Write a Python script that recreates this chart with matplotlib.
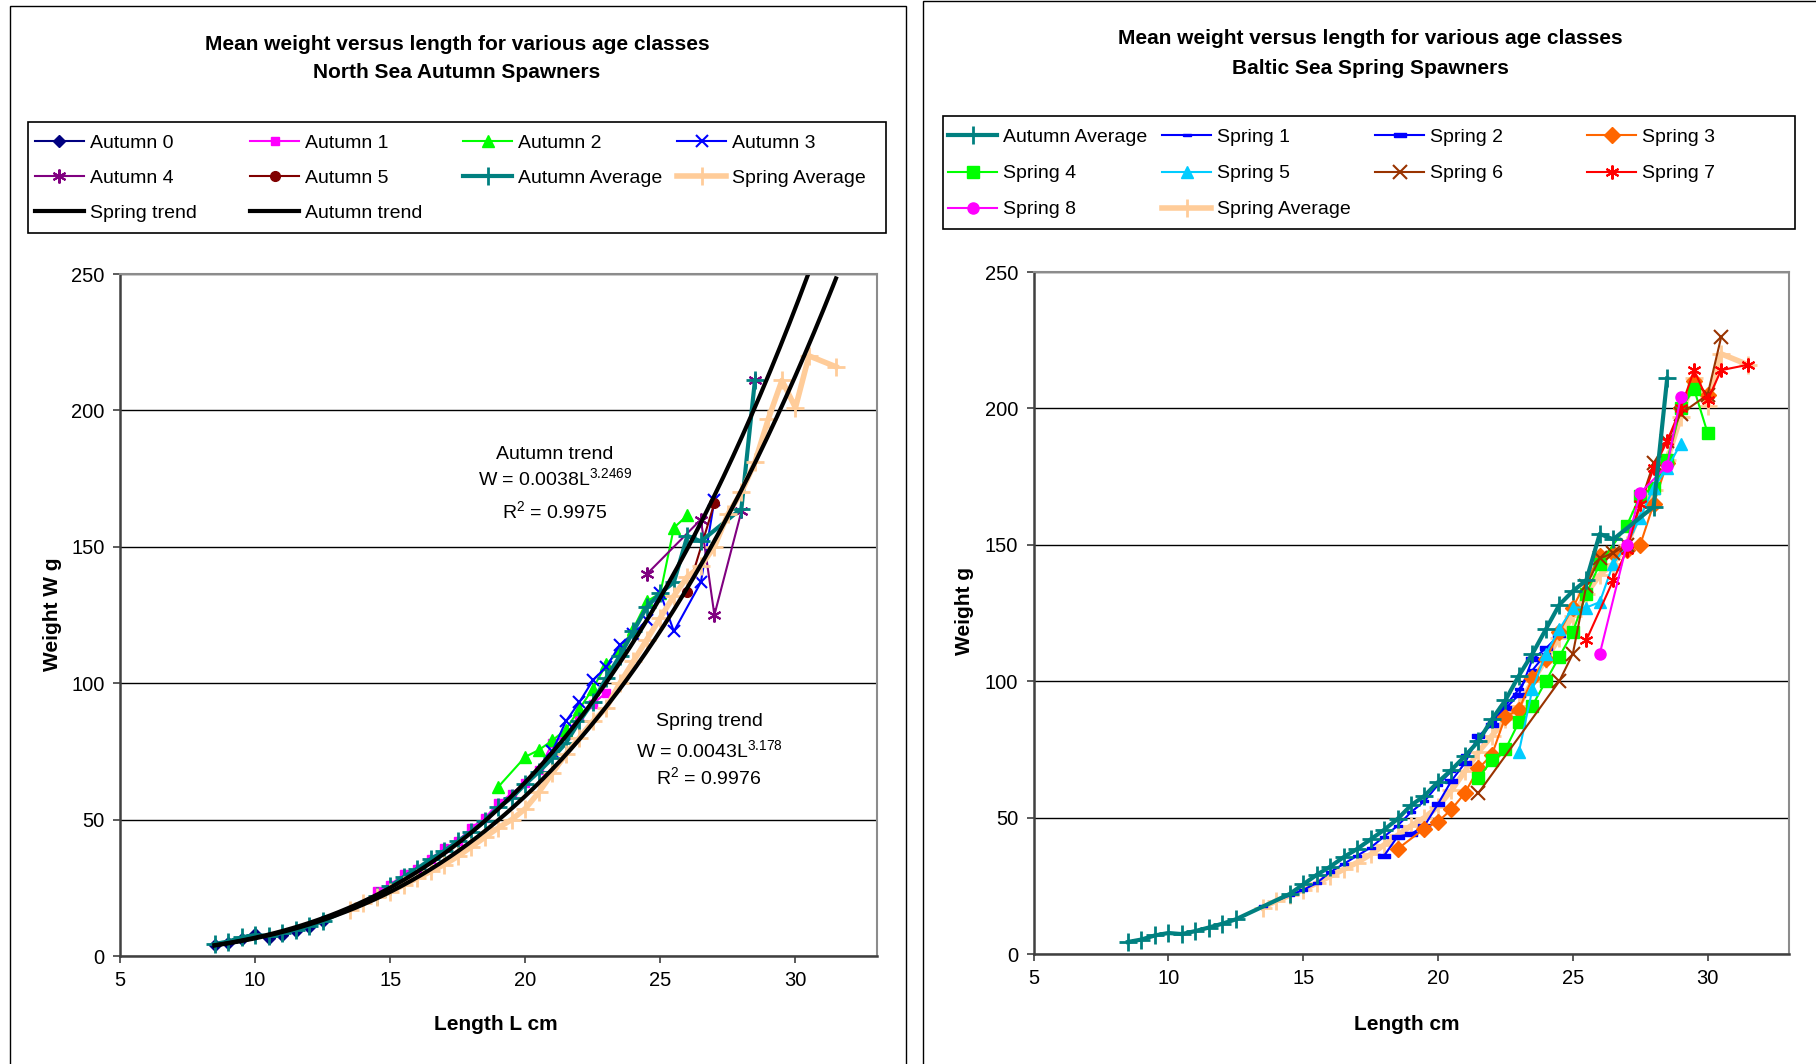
import numpy as np
import matplotlib
matplotlib.use('Agg')
import matplotlib.pyplot as plt
from matplotlib.patches import Rectangle
from matplotlib.lines import Line2D

plt.rcParams['font.family'] = ['Liberation Sans', 'DejaVu Sans']
plt.rcParams['mathtext.fontset'] = 'custom'
plt.rcParams['mathtext.rm'] = 'Liberation Sans'
plt.rcParams['mathtext.default'] = 'regular'

# ---- data (length cm, mean weight g) ----
aut_avg_x = [8.5, 9, 9.5, 10, 10.5, 11, 11.5, 12, 12.5, 14.5, 15, 15.5, 16, 16.5, 17, 17.5, 18, 18.5,
             19, 19.5, 20, 20.5, 21, 21.5, 22, 22.5, 23, 23.5, 24, 24.5, 25, 25.5, 26, 26.5, 28, 28.5]
aut_avg_y = [4.4, 5.3, 6.8, 7.7, 7.3, 8.4, 9.7, 11.1, 12.7, 22, 25.5, 29, 32, 35.5, 38.5, 42, 45.5, 49.5,
             54.5, 58, 63, 67.5, 72.5, 78, 86, 93, 102, 110, 119, 128, 133, 137, 154, 152, 164, 211]

spr_avg_x = [13.5, 14, 14.5, 15, 15.5, 16, 16.5, 17, 17.5, 18, 18.5, 19, 19.5, 20, 20.5, 21, 21.5, 22,
             22.5, 23, 23.5, 24, 24.5, 25, 25.5, 26, 26.5, 27, 27.5, 28, 28.5, 29, 29.5, 30, 30.5, 31.5]
spr_avg_y = [17, 19.5, 21.5, 23.5, 26, 28.5, 31, 33.5, 36.5, 40, 43.5, 47, 50, 54, 60, 67, 74, 80,
             86, 91, 100, 108, 116, 124, 132, 139, 143, 150, 162, 170, 181, 197, 211, 201, 220, 216]

aut0_x = [8.5, 9, 9.5, 10, 10.5, 11, 11.5, 12, 12.5]
aut0_y = [4.0, 4.6, 6.3, 8.0, 6.5, 7.6, 9.3, 10.7, 13.0]
aut1_x = [14.5, 15, 15.5, 16, 16.5, 17, 17.5, 18, 18.5, 19, 19.5, 20, 20.5, 21, 21.5, 22, 22.5, 23]
aut1_y = [24, 26, 30, 32, 35.5, 39.5, 42, 47, 50.5, 56, 59.5, 63.5, 68, 78, 81, 88, 92.5, 96.5]
aut2_x = [19, 20, 20.5, 21, 21.5, 22, 22.5, 23, 23.5, 24, 24.5, 25, 25.5, 26]
aut2_y = [62, 73, 75.5, 79, 83, 90.5, 98, 107, 112, 120, 130, 133, 157, 161.5]
aut3_x = [21, 21.5, 22, 22.5, 23, 23.5, 24, 24.5, 25, 25.5, 26.5, 27]
aut3_y = [75, 86, 93, 101, 106, 114, 118, 123, 133, 119, 137, 167]
aut4_x = [24.5, 26.5, 27, 28, 28.5]
aut4_y = [140, 160, 125, 163, 211]
aut5_x = [26, 27]
aut5_y = [133.5, 166]

spr1_x = [13.5, 14.5, 15, 15.5, 16, 16.5, 17, 17.5, 18, 18.5, 19, 19.5, 20, 20.5, 21, 21.5, 22, 22.5, 23, 23.5, 24]
spr1_y = [17.5, 21.5, 23.5, 26, 30, 33, 36, 39, 43, 47, 52, 56, 62, 67, 73, 78, 85, 91, 97, 104, 110]
spr2_x = [18, 18.5, 19, 19.5, 20, 20.5, 21, 21.5, 22, 22.5, 23, 23.5, 24, 24.5]
spr2_y = [36, 43, 44, 47, 55, 63.5, 70, 80, 84, 90, 95, 108, 112, 117]
spr3_x = [18.5, 19.5, 20, 20.5, 21, 21.5, 22, 22.5, 23, 23.5, 24, 24.5, 25, 26, 26.5, 27, 27.5, 28, 28.5, 29, 29.5, 30]
spr3_y = [38.5, 46, 48.5, 53, 59, 68, 73, 87, 89.5, 101, 108, 118, 127, 146, 147, 148, 150, 165, 180, 200, 210, 205]
spr4_x = [21.5, 22, 22.5, 23, 23.5, 24, 24.5, 25, 25.5, 26, 27, 27.5, 28, 28.5, 29, 29.5, 30]
spr4_y = [64.5, 71, 75, 85, 91, 100, 109, 118, 132, 143, 157, 168, 171, 181, 200, 207, 191]
spr5_x = [23, 23.5, 24, 24.5, 25, 25.5, 26, 26.5, 27, 27.5, 28, 28.5, 29]
spr5_y = [74, 97, 110, 119, 127, 127, 129, 143, 150, 160, 171, 178, 187]
spr6_x = [21.5, 24.5, 25, 25.5, 26, 26.5, 27, 28, 28.5, 29, 30, 30.5]
spr6_y = [59, 100, 110, 135, 145, 147, 150, 180, 188, 198, 205, 226]
spr7_x = [25.5, 26.5, 27, 27.5, 28, 28.5, 29, 29.5, 30, 30.5, 31.5]
spr7_y = [115, 137, 148, 165, 178, 188, 200, 214, 203, 214, 216]
spr8_x = [26, 27, 27.5, 28.5, 29]
spr8_y = [110, 150, 169, 179, 204]

# power trend coefficients shown on the chart: W = a * L^b
aut_trend = (0.0038, 3.2469, 0.9975)
spr_trend = (0.0043, 3.178, 0.9976)

W, H = 1816, 1064
fig = plt.figure(figsize=(W / 100, H / 100), dpi=100)


def fx(px):
    return px / W


def fy(py):
    return 1 - py / H


# panel frames
fig.add_artist(Rectangle((fx(10), -0.1), (906 - 10) / W, 1.1 - 6 / H, transform=fig.transFigure,
                         fill=False, ec='black', lw=1))
fig.add_artist(Rectangle((fx(923), -0.1), 0.5, 1.1 - 1 / H, transform=fig.transFigure,
                         fill=False, ec='black', lw=1))

dash_s = [(-1, -0.3), (1, -0.3), (1, 0.3), (-1, 0.3), (-1, -0.3)]
aster = (6, 2, 0)


def style_axes(ax):
    ax.set_xlim(5, 33)
    ax.set_ylim(0, 250)
    ax.set_xticks([5, 10, 15, 20, 25, 30])
    ax.set_yticks([0, 50, 100, 150, 200, 250])
    ax.yaxis.grid(True, color='black', lw=1)
    ax.set_axisbelow(True)
    for s in ['left', 'bottom']:
        ax.spines[s].set_color('#404040')
        ax.spines[s].set_linewidth(1.8)
    for s in ['top', 'right']:
        ax.spines[s].set_color('#8c8c8c')
        ax.spines[s].set_linewidth(1.5)
    ax.tick_params(labelsize=14.5, length=5, width=1.2, direction='out', pad=6, color='#404040')


def draw_legend(lines, box, cols, rows):
    # Excel-like legend: equal columns, row-major order
    x0, y0, x1, y1 = box
    fig.add_artist(Rectangle((fx(x0), fy(y1)), (x1 - x0) / W, (y1 - y0) / H, transform=fig.transFigure,
                             fill=False, ec='black', lw=1.2))
    for i, ln in enumerate(lines):
        cx = cols[i % 4]
        cy = rows[i // 4]
        fig.add_artist(Line2D([fx(cx), fx(cx + 49)], [fy(cy), fy(cy)], transform=fig.transFigure,
                              color=ln.get_color(), lw=ln.get_linewidth()))
        if ln.get_marker() not in (None, 'None', ''):
            fig.add_artist(Line2D([fx(cx + 24.5)], [fy(cy)], transform=fig.transFigure, ls='none',
                                  color=ln.get_color(), marker=ln.get_marker(), ms=ln.get_markersize(),
                                  mew=ln.get_markeredgewidth()))
        fig.text(fx(cx + 55), fy(cy + 7), ln.get_label(), ha='left', va='baseline', fontsize=14)


# ---------------- left: North Sea autumn spawners ----------------
axL = fig.add_axes([fx(120), fy(956), (876.5 - 120) / W, (956 - 274) / H])
style_axes(axL)

a0, = axL.plot(aut0_x, aut0_y, '-D', color='#000080', ms=6, lw=1.5, label='Autumn 0')
a1, = axL.plot(aut1_x, aut1_y, '-s', color='#FF00FF', ms=6, lw=1.5, label='Autumn 1')
a2, = axL.plot(aut2_x, aut2_y, '-^', color='#00FF00', ms=8, lw=1.5, label='Autumn 2')
a3, = axL.plot(aut3_x, aut3_y, '-x', color='#0000FF', ms=9, mew=1.5, lw=1.5, label='Autumn 3')
a4, = axL.plot(aut4_x, aut4_y, '-', marker=aster, color='#800080', ms=10, mew=1.5, lw=1.5, label='Autumn 4')
a5, = axL.plot(aut5_x, aut5_y, '-o', color='#800000', ms=7, lw=1.5, label='Autumn 5')
aav, = axL.plot(aut_avg_x, aut_avg_y, '-+', color='#008080', ms=13, mew=2, lw=3, label='Autumn Average')
sav, = axL.plot(spr_avg_x, spr_avg_y, '-+', color='#FFCC99', ms=13, mew=2, lw=4, label='Spring Average')

L = np.linspace(8.5, 31.5, 200)
st, = axL.plot(L, spr_trend[0] * L ** spr_trend[1], color='black', lw=3, label='Spring trend')
at, = axL.plot(L, aut_trend[0] * L ** aut_trend[1], color='black', lw=3, label='Autumn trend')

axL.text(21.1, 184, 'Autumn trend', ha='center', va='center', fontsize=14)
axL.text(21.1, 175, 'W = %.4fL$^{%s}$' % (aut_trend[0], aut_trend[1]), ha='center', va='center', fontsize=14)
axL.text(21.1, 163, 'R$^2$ = %.4f' % aut_trend[2], ha='center', va='center', fontsize=14)
axL.text(26.8, 86, 'Spring trend', ha='center', va='center', fontsize=14)
axL.text(26.8, 75.5, 'W = %.4fL$^{%s}$' % (spr_trend[0], spr_trend[1]), ha='center', va='center', fontsize=14)
axL.text(26.8, 65.5, 'R$^2$ = %.4f' % spr_trend[2], ha='center', va='center', fontsize=14)

fig.text(fx(457), fy(44), 'Mean weight versus length for various age classes', ha='center', va='center',
         fontsize=15, weight='bold')
fig.text(fx(457), fy(73), 'North Sea Autumn Spawners', ha='center', va='center', fontsize=15, weight='bold')
fig.text(fx(496), fy(1025), 'Length L cm', ha='center', va='center', fontsize=15, weight='bold')
fig.text(fx(52), fy(614), 'Weight W g', ha='center', va='center', fontsize=15, weight='bold', rotation=90)

draw_legend([a0, a1, a2, a3, a4, a5, aav, sav, st, at], (27.5, 122.5, 886, 232.5),
            [35, 250, 463, 677], [141, 176, 211])

# ---------------- right: Baltic Sea spring spawners ----------------
axR = fig.add_axes([fx(1033.5), fy(954), (1788.5 - 1033.5) / W, (954 - 272) / H])
style_axes(axR)

r_sav, = axR.plot(spr_avg_x, spr_avg_y, '-+', color='#FFCC99', ms=13, mew=2, lw=4, label='Spring Average', zorder=2)
r1, = axR.plot(spr1_x, spr1_y, '-', marker=dash_s, color='#0000FF', ms=6, lw=1.5, label='Spring 1', zorder=3)
r2, = axR.plot(spr2_x, spr2_y, '-', marker=dash_s, color='#0000FF', ms=9, lw=1.5, label='Spring 2', zorder=3)
r3, = axR.plot(spr3_x, spr3_y, '-D', color='#FF6600', ms=8, lw=1.5, label='Spring 3', zorder=3)
r4, = axR.plot(spr4_x, spr4_y, '-s', color='#00FF00', ms=8, lw=1.5, label='Spring 4', zorder=3)
r5, = axR.plot(spr5_x, spr5_y, '-^', color='#00CCFF', ms=9, lw=1.5, label='Spring 5', zorder=3)
r6, = axR.plot(spr6_x, spr6_y, '-x', color='#993300', ms=10, mew=1.5, lw=1.5, label='Spring 6', zorder=3)
r7, = axR.plot(spr7_x, spr7_y, '-', marker=aster, color='#FF0000', ms=10, mew=1.5, lw=1.5, label='Spring 7', zorder=3)
r8, = axR.plot(spr8_x, spr8_y, '-o', color='#FF00FF', ms=8, lw=1.5, label='Spring 8', zorder=3)
r_aav, = axR.plot(aut_avg_x, aut_avg_y, '-+', color='#008080', ms=13, mew=2, lw=3, label='Autumn Average', zorder=4)

fig.text(fx(1370), fy(39), 'Mean weight versus length for various age classes', ha='center', va='center',
         fontsize=15, weight='bold')
fig.text(fx(1370), fy(68), 'Baltic Sea Spring Spawners', ha='center', va='center', fontsize=15, weight='bold')
fig.text(fx(1407), fy(1024), 'Length cm', ha='center', va='center', fontsize=15, weight='bold')
fig.text(fx(964), fy(611), 'Weight g', ha='center', va='center', fontsize=15, weight='bold', rotation=90)

draw_legend([r_aav, r1, r2, r3, r4, r5, r6, r7, r8, r_sav], (943, 116.5, 1795, 229),
            [948, 1162, 1375, 1587], [135, 171.5, 207.5])

fig.savefig('out.png', dpi=100, facecolor='white')
